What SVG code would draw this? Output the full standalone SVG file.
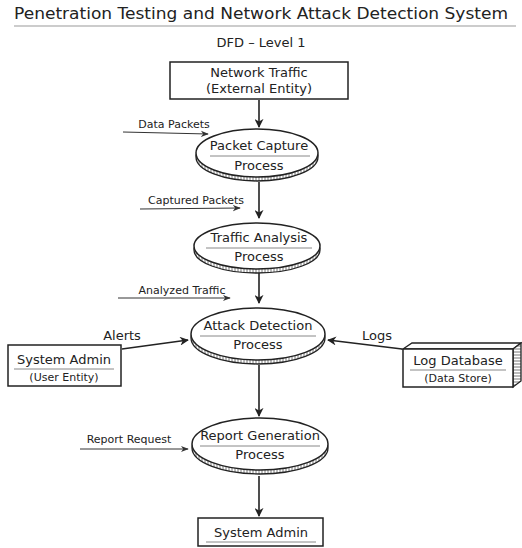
<svg xmlns="http://www.w3.org/2000/svg" width="522" height="548" viewBox="0 0 522 548">
<style>
text{font-family:"DejaVu Sans","Liberation Sans",sans-serif;fill:#222;text-anchor:middle}
.t{font-size:16px}
.s{font-size:13px}
.n{font-size:13px}
.l{font-size:11px}
.box{fill:#fff;stroke:#222;stroke-width:1.5}
.ul{stroke:#888;stroke-width:1}
.c{stroke:#222;stroke-width:1.6;fill:none}
.ct{stroke:#333;stroke-width:1;fill:none}
</style>
<defs>
<pattern id="hatch" width="3" height="6" patternUnits="userSpaceOnUse">
<rect width="3" height="6" fill="#fff"/>
<line x1="1" y1="0" x2="1" y2="6" stroke="#555" stroke-width="0.8"/>
</pattern>
<pattern id="hh" width="6" height="3" patternUnits="userSpaceOnUse">
<rect width="6" height="3" fill="#fff"/>
<line x1="0" y1="1" x2="6" y2="1" stroke="#555" stroke-width="0.8"/>
</pattern>
<marker id="ah" viewBox="0 0 10 10" refX="9" refY="5" markerWidth="9" markerHeight="9" markerUnits="userSpaceOnUse" orient="auto">
<path d="M0,0 L10,5 L0,10 L3,5 z" fill="#222"/>
</marker>
<marker id="ahs" viewBox="0 0 10 10" refX="9" refY="5" markerWidth="8" markerHeight="8" markerUnits="userSpaceOnUse" orient="auto">
<path d="M0,1 L10,5 L0,9 L3,5 z" fill="#333"/>
</marker>
</defs>
<rect width="522" height="548" fill="#fff"/>
<g id="title">
<text class="t" x="261" y="19" textLength="494" lengthAdjust="spacingAndGlyphs">Penetration Testing and Network Attack Detection System</text>
<line x1="14" y1="26" x2="516" y2="26" stroke="#999" stroke-width="1"/>
<text class="s" x="261" y="47">DFD – Level 1</text>
</g>
<g id="connectors">
<line class="c" x1="259" y1="100" x2="259" y2="127" marker-end="url(#ah)"/>
<line class="c" x1="259" y1="182" x2="259" y2="218" marker-end="url(#ah)"/>
<line class="c" x1="259" y1="273" x2="259" y2="303" marker-end="url(#ah)"/>
<line class="c" x1="259" y1="365" x2="259" y2="416" marker-end="url(#ah)"/>
<line class="c" x1="259" y1="476" x2="259" y2="516" marker-end="url(#ah)"/>
<line class="ct" x1="123" y1="132" x2="208" y2="134" marker-end="url(#ahs)"/>
<line class="ct" x1="140" y1="209" x2="240" y2="208" marker-end="url(#ahs)"/>
<line class="ct" x1="118" y1="298" x2="230" y2="298" marker-end="url(#ahs)"/>
<line class="ct" x1="80" y1="449" x2="188" y2="449" marker-end="url(#ahs)"/>
<line class="c" x1="122" y1="349" x2="188" y2="340" marker-end="url(#ah)"/>
<line class="c" x1="402" y1="349" x2="328" y2="340" marker-end="url(#ah)"/>
<text class="l" x="174" y="128">Data Packets</text>
<text class="l" x="196" y="204">Captured Packets</text>
<text class="l" x="182" y="294">Analyzed Traffic</text>
<text class="l" x="129" y="443">Report Request</text>
<text class="n" x="122" y="340">Alerts</text>
<text class="n" x="377" y="340">Logs</text>
</g>
<g id="network-traffic">
<rect class="box" x="170" y="62" width="178" height="37"/>
<text class="n" x="259" y="77">Network Traffic</text>
<text class="n" x="259" y="93">(External Entity)</text>
</g>
<g id="packet-capture">
<ellipse cx="257" cy="157" rx="61" ry="24" fill="url(#hatch)" stroke="#222" stroke-width="1.3"/>
<ellipse cx="257" cy="153" rx="61" ry="24" fill="#fff" stroke="#222" stroke-width="1.5"/>
<text class="n" x="259" y="150">Packet Capture</text>
<line class="ul" x1="210" y1="156" x2="310" y2="156"/>
<text class="n" x="259" y="170">Process</text>
</g>
<g id="traffic-analysis">
<ellipse cx="257" cy="250" rx="63" ry="23" fill="url(#hatch)" stroke="#222" stroke-width="1.3"/>
<ellipse cx="257" cy="246" rx="63" ry="23" fill="#fff" stroke="#222" stroke-width="1.5"/>
<text class="n" x="259" y="242">Traffic Analysis</text>
<line class="ul" x1="206" y1="248" x2="312" y2="248"/>
<text class="n" x="259" y="261">Process</text>
</g>
<g id="attack-detection">
<ellipse cx="258" cy="338" rx="67" ry="26" fill="url(#hatch)" stroke="#222" stroke-width="1.3"/>
<ellipse cx="258" cy="334" rx="67" ry="26" fill="#fff" stroke="#222" stroke-width="1.5"/>
<text class="n" x="258" y="330">Attack Detection</text>
<line class="ul" x1="200" y1="336" x2="316" y2="336"/>
<text class="n" x="258" y="349">Process</text>
</g>
<g id="system-admin-user">
<rect class="box" x="8" y="345" width="113" height="41"/>
<text class="n" x="64" y="364">System Admin</text>
<line class="ul" x1="14" y1="369" x2="114" y2="369"/>
<text class="l" x="64" y="381">(User Entity)</text>
</g>
<g id="log-database">
<path d="M403,349 L412,343 L521,343 L513,349 Z" fill="#fff" stroke="#222" stroke-width="1.3"/>
<path d="M513,349 L521,343 L521,381 L513,387 Z" fill="url(#hh)" stroke="#222" stroke-width="1.3"/>
<rect class="box" x="403" y="349" width="110" height="38"/>
<text class="n" x="458" y="365">Log Database</text>
<line class="ul" x1="410" y1="370" x2="506" y2="370"/>
<text class="l" x="458" y="382">(Data Store)</text>
</g>
<g id="report-generation">
<ellipse cx="260" cy="448" rx="68" ry="26" fill="url(#hatch)" stroke="#222" stroke-width="1.3"/>
<ellipse cx="260" cy="444" rx="68" ry="26" fill="#fff" stroke="#222" stroke-width="1.5"/>
<text class="n" x="260" y="440">Report Generation</text>
<line class="ul" x1="200" y1="446" x2="320" y2="446"/>
<text class="n" x="260" y="459">Process</text>
</g>
<g id="system-admin">
<rect class="box" x="198" y="518" width="125" height="28"/>
<text class="n" x="261" y="537">System Admin</text>
<line class="ul" x1="206" y1="542" x2="316" y2="542"/>
</g>
</svg>
